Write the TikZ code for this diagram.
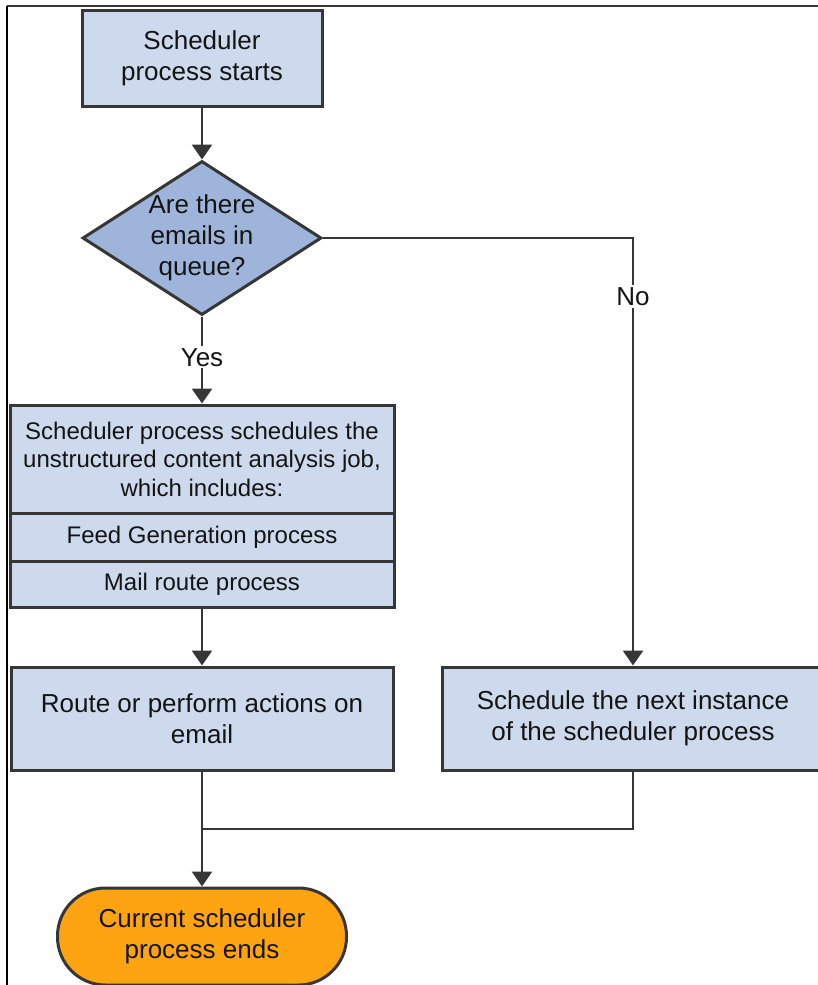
\documentclass[tikz,border=0pt]{standalone}
\usepackage{fontspec}
\setmainfont{Liberation Sans}
\usetikzlibrary{shapes.geometric,arrows.meta}

\definecolor{boxfill}{HTML}{CDD9EC}
\definecolor{decfill}{HTML}{9FB4DA}
\definecolor{endfill}{HTML}{FFA411}
\definecolor{edge}{HTML}{363636}
\definecolor{ink}{HTML}{141414}

\tikzset{
  base/.style={draw=edge, line width=3pt, text=ink, align=center, inner sep=0pt},
  procbox/.style={base, rectangle, fill=boxfill, font=\fontsize{26}{31}\selectfont},
  subbox/.style={base, rectangle, fill=boxfill, font=\fontsize{24}{28.5}\selectfont},
  decision/.style={base, diamond, fill=decfill},
  terminal/.style={base, rectangle, rounded corners=48pt, fill=endfill, font=\fontsize{26}{31}\selectfont},
  flow/.style={draw=edge, line width=2.7pt, -{Triangle[width=20pt,length=15pt]}},
  joinline/.style={draw=edge, line width=2.7pt},
  tag/.style={fill=white, text=ink, inner sep=2pt, font=\fontsize{26}{31}\selectfont}
}

\begin{document}
\begin{tikzpicture}[x=1pt, y=-1pt]
  \useasboundingbox (0,0) rectangle (818,985);

  % outer frame: top and left edges
  \draw[draw=edge, line width=1.8pt] (7,6) -- (818,6);
  \draw[draw=black, line width=1.8pt] (7,6) -- (7,985);

  % start box
  \node[procbox, minimum width=240pt, minimum height=96pt] (start) at (202,58)
    {Scheduler\\process starts};

  % decision
  \node[decision, minimum width=239pt, minimum height=154pt] (q) at (202,238) {};
  \node[text=ink, align=center, inner sep=0pt, font=\fontsize{26}{31}\selectfont] (qtext) at (202,238)
    {Are there\\emails in\\queue?};

  % job box with its two sub-steps
  \node[subbox, minimum width=384pt, minimum height=108pt] (job) at (202,459)
    {Scheduler process schedules the\\unstructured content analysis job,\\which includes:};
  \node[subbox, minimum width=384pt, minimum height=48pt] (feed) at (202,537)
    {Feed Generation process};
  \node[subbox, minimum width=384pt, minimum height=46pt] (mail) at (202,584)
    {Mail route process};

  % action boxes
  \node[procbox, minimum width=382pt, minimum height=103pt] (route) at (202,718.5)
    {Route or perform actions on\\email};
  \node[procbox, minimum width=382pt, minimum height=103pt] (next) at (633,718.5)
    {Schedule the next instance\\of the scheduler process};

  % end
  \node[terminal, minimum width=289pt, minimum height=97pt] (end) at (202,936.5)
    {Current scheduler\\process ends};

  \coordinate (nocorner) at (633,238);
  \coordinate (merge) at (202,829);
  \coordinate (nextturn) at (633,829);

  % connectors
  \draw[flow] (start.south) -- (q.north);
  \draw[flow] (q.south) -- node[tag, pos=0.47] (yes) {Yes} (job.north);
  \draw[flow] (q.east) -- (nocorner) -- node[tag, pos=0.137] (no) {No} (next.north);
  \draw[flow] (mail.south) -- (route.north);
  \draw[flow] (route.south) -- (end.north);
  \draw[joinline] (next.south) -- (nextturn) -- (merge);
\end{tikzpicture}
\end{document}
